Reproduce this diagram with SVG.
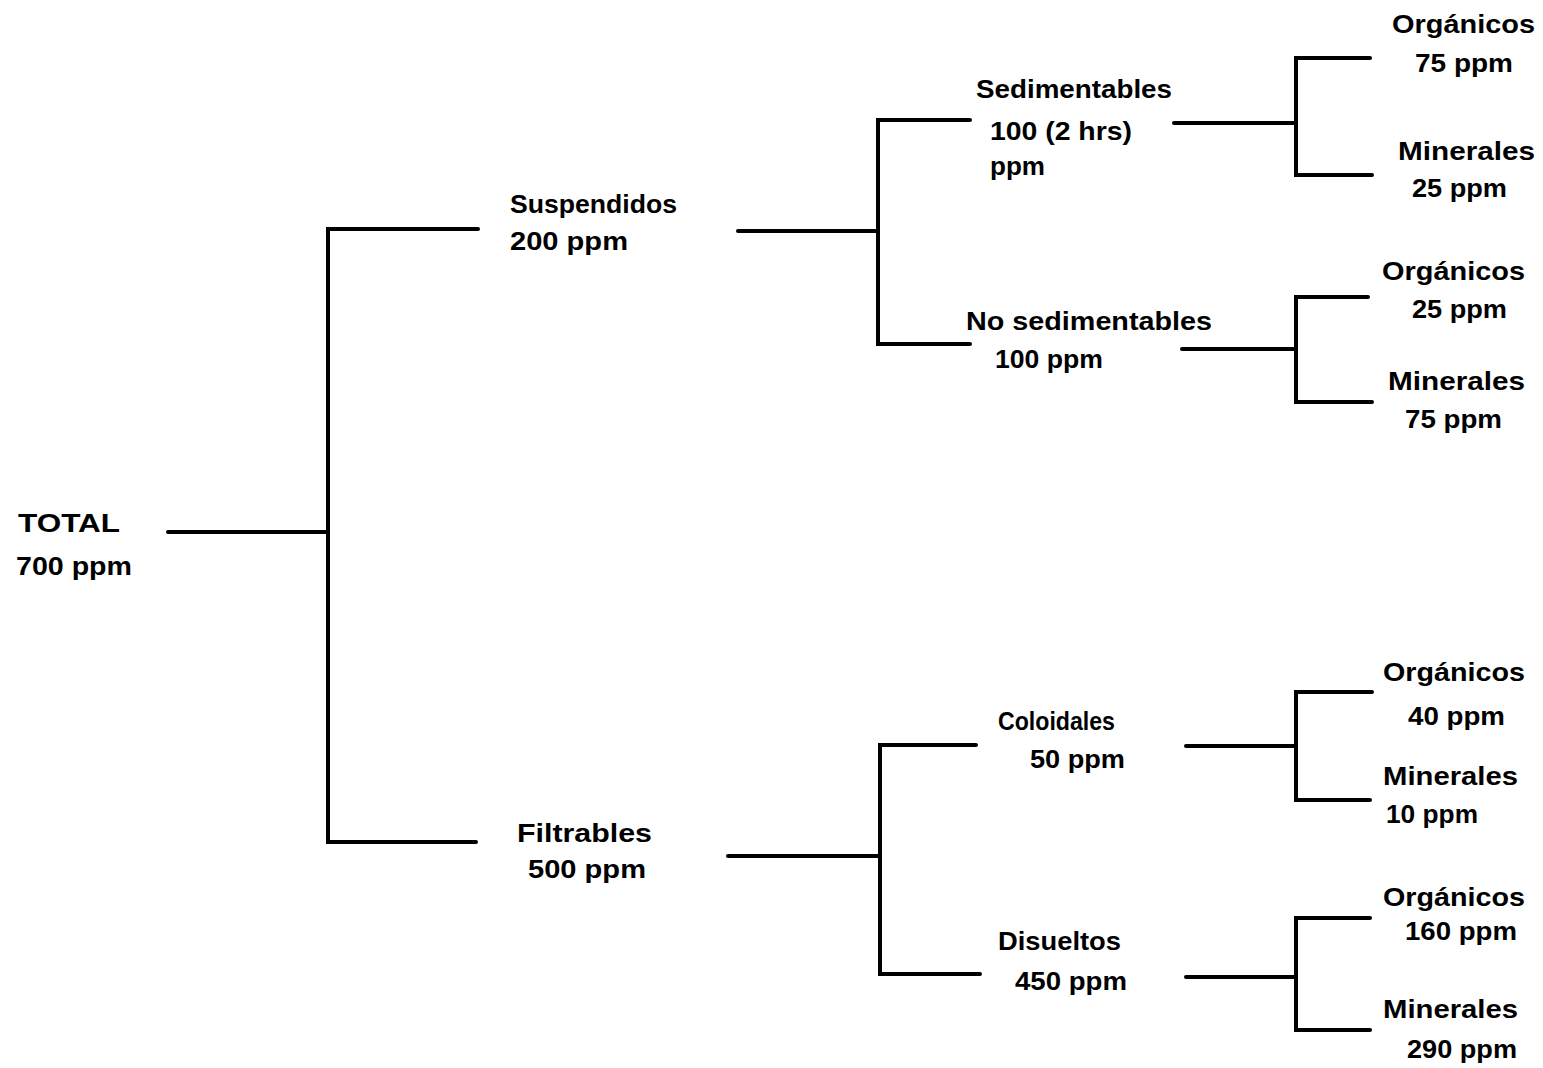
<svg xmlns="http://www.w3.org/2000/svg" width="1543" height="1068" viewBox="0 0 1543 1068">
<style>
text{font-family:"Liberation Sans",Arial,sans-serif;font-weight:bold;font-size:26px;fill:#000}
.c{fill:none;stroke:#000;stroke-width:4;stroke-linecap:round;stroke-linejoin:miter}
</style>
<rect width="1543" height="1068" fill="#fff"/>
<g id="connectors" class="c">
<path d="M168 532H328"/>
<path d="M478 229H328V842H476"/>
<path d="M738 231H878"/>
<path d="M970 120H878V344H970"/>
<path d="M728 856H880"/>
<path d="M976 745H880V974H980"/>
<path d="M1174 123H1296"/>
<path d="M1370 58H1296V175H1372"/>
<path d="M1182 349H1296"/>
<path d="M1368 297H1296V402H1372"/>
<path d="M1186 746H1296"/>
<path d="M1372 692H1296V800H1370"/>
<path d="M1186 977H1296"/>
<path d="M1370 918H1296V1030H1370"/>
</g>
<g id="n-total"><text x="18" y="532" textLength="102" lengthAdjust="spacingAndGlyphs">TOTAL</text><text x="16" y="575" textLength="116" lengthAdjust="spacingAndGlyphs">700 ppm</text></g>
<g id="n-suspendidos"><text x="510" y="213" textLength="167" lengthAdjust="spacingAndGlyphs">Suspendidos</text><text x="510" y="250" textLength="118" lengthAdjust="spacingAndGlyphs">200 ppm</text></g>
<g id="n-filtrables"><text x="517" y="842" textLength="135" lengthAdjust="spacingAndGlyphs">Filtrables</text><text x="528" y="878" textLength="118" lengthAdjust="spacingAndGlyphs">500 ppm</text></g>
<g id="n-sedimentables"><text x="976" y="98" textLength="196" lengthAdjust="spacingAndGlyphs">Sedimentables</text><text x="990" y="140" textLength="142" lengthAdjust="spacingAndGlyphs">100 (2 hrs)</text><text x="990" y="175" textLength="55" lengthAdjust="spacingAndGlyphs">ppm</text></g>
<g id="n-nosedimentables"><text x="966" y="330" textLength="246" lengthAdjust="spacingAndGlyphs">No sedimentables</text><text x="995" y="368" textLength="108" lengthAdjust="spacingAndGlyphs">100 ppm</text></g>
<g id="n-coloidales"><text x="998" y="730" textLength="117" lengthAdjust="spacingAndGlyphs">Coloidales</text><text x="1030" y="768" textLength="95" lengthAdjust="spacingAndGlyphs">50 ppm</text></g>
<g id="n-disueltos"><text x="998" y="950" textLength="123" lengthAdjust="spacingAndGlyphs">Disueltos</text><text x="1015" y="990" textLength="112" lengthAdjust="spacingAndGlyphs">450 ppm</text></g>
<g id="n-sed-org"><text x="1392" y="33" textLength="143" lengthAdjust="spacingAndGlyphs">Orgánicos</text><text x="1415" y="72" textLength="98" lengthAdjust="spacingAndGlyphs">75 ppm</text></g>
<g id="n-sed-min"><text x="1398" y="160" textLength="137" lengthAdjust="spacingAndGlyphs">Minerales</text><text x="1412" y="197" textLength="95" lengthAdjust="spacingAndGlyphs">25 ppm</text></g>
<g id="n-nosed-org"><text x="1382" y="280" textLength="143" lengthAdjust="spacingAndGlyphs">Orgánicos</text><text x="1412" y="318" textLength="95" lengthAdjust="spacingAndGlyphs">25 ppm</text></g>
<g id="n-nosed-min"><text x="1388" y="390" textLength="137" lengthAdjust="spacingAndGlyphs">Minerales</text><text x="1405" y="428" textLength="97" lengthAdjust="spacingAndGlyphs">75 ppm</text></g>
<g id="n-col-org"><text x="1383" y="681" textLength="142" lengthAdjust="spacingAndGlyphs">Orgánicos</text><text x="1408" y="725" textLength="97" lengthAdjust="spacingAndGlyphs">40 ppm</text></g>
<g id="n-col-min"><text x="1383" y="785" textLength="135" lengthAdjust="spacingAndGlyphs">Minerales</text><text x="1386" y="823" textLength="92" lengthAdjust="spacingAndGlyphs">10 ppm</text></g>
<g id="n-dis-org"><text x="1383" y="906" textLength="142" lengthAdjust="spacingAndGlyphs">Orgánicos</text><text x="1405" y="940" textLength="112" lengthAdjust="spacingAndGlyphs">160 ppm</text></g>
<g id="n-dis-min"><text x="1383" y="1018" textLength="135" lengthAdjust="spacingAndGlyphs">Minerales</text><text x="1407" y="1058" textLength="110" lengthAdjust="spacingAndGlyphs">290 ppm</text></g>
</svg>
